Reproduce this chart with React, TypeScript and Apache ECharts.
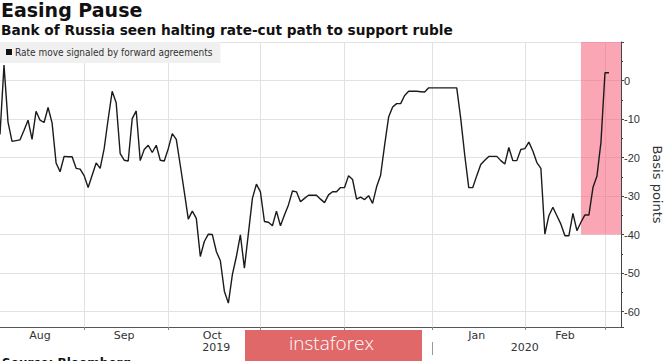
import React, { useEffect, useRef } from 'react';
import * as echarts from 'echarts';

// ---- data ----
const firstDay = '2019-08-02';
const lastDay = '2020-03-06';

// Basis points, one value per business day from 2019-08-02
const rateMove = [
  -14, 4, -10.8, -15.8, -15.6, -15.4, -12.9, -10.3, -15.3, -8,
  -10.3, -10.9, -7, -11, -21.4, -23.7, -19.7, -19.8, -19.8, -22.8,
  -23, -24.7, -27.8, -24.6, -21.4, -22.8, -17.7, -10, -2.8, -5.8,
  -19, -20.7, -20.9, -9.9, -7.9, -20.8, -17.9, -16.8, -18.7, -16.8,
  -20.7, -20.9, -17.7, -13.8, -15.3, -22, -28.9, -36, -33.9, -35.8,
  -45.7, -41.8, -39.9, -40, -44.4, -46.8, -54.7, -57.8, -50.4, -45.7,
  -40.1, -48.7, -39.7, -30.6, -26.9, -28.9, -36.6, -36.8, -37.7, -33.9,
  -37.7, -34.9, -32.3, -28.7, -28.9, -31.5, -30.6, -29.8, -29.8, -29.8,
  -30.8, -31.7, -29.7, -28.9, -28.9, -27.8, -27.8, -24.7, -25.7, -30.8,
  -30.3, -30.9, -29.9, -31.9, -27.6, -24.6, -16.8, -9.5, -6.9, -6,
  -6, -3.9, -2.8, -2.8, -2.8, -2.9, -3, -1.9, -1.9, -1.9,
  -1.9, -1.9, -1.9, -1.9, -1.9, -9.9, -19.4, -27.8, -27.8, -24.7,
  -21.8, -20.7, -19.7, -19.7, -19.7, -20.8, -21.7, -17.4, -20.8, -20.8,
  -17.9, -17.7, -16, -18.3, -21.3, -22.8, -39.9, -35.1, -32.9, -35.1,
  -37.3, -40.3, -40.3, -34.5, -39, -36.8, -34.9, -34.9, -27.8, -24.8,
  -16, 2, 2,
];

const monthStartDates = ['2019-09-02', '2019-10-01', '2019-11-01', '2019-12-02', '2020-01-01', '2020-02-03', '2020-03-02'];
const monthLabels = ['Aug', 'Sep', 'Oct', 'Nov', 'Dec', 'Jan', 'Feb'];
const monthLabelDates = ['2019-08-16', '2019-09-16', '2019-10-16', '2019-11-15', '2019-12-17', '2020-01-16', '2020-02-17'];
const yearLabels = ['2019', '2020'];
const yearLabelDates = ['2019-10-17', '2020-02-03'];
const yearBreakDate = '2020-01-01';

const highlightStart = '2020-02-21';
const highlightFloor = -40;
const highlightTop = 10;

const seriesName = 'Rate move signaled by forward agreements';

function businessDays(start: string, end: string): string[] {
  const out: string[] = [];
  const d = new Date(start + 'T00:00:00Z');
  const e = new Date(end + 'T00:00:00Z');
  while (d <= e) {
    const wd = d.getUTCDay();
    if (wd !== 0 && wd !== 6) out.push(d.toISOString().slice(0, 10));
    d.setUTCDate(d.getUTCDate() + 1);
  }
  return out;
}

const FONT = '"DejaVu Sans", sans-serif';
const FONT_C = '"DejaVu Sans Condensed", "DejaVu Sans", sans-serif';

export default function App() {
  const ref = useRef<HTMLDivElement>(null);
  useEffect(() => {
    document.body.style.margin = '0';
    if (!ref.current) return;
    const chart = echarts.init(ref.current, undefined, { renderer: 'svg' });
    const dates = businessDays(firstDay, lastDay);
    const startIdx = new Set(monthStartDates.map((d) => dates.indexOf(d)));
    const labelMap = new Map<number, string>();
    monthLabelDates.forEach((d, i) => labelMap.set(dates.indexOf(d), monthLabels[i]));
    const yearMap = new Map<number, string>();
    yearLabelDates.forEach((d, i) => yearMap.set(dates.indexOf(d), yearLabels[i]));
    const breakIdx = dates.indexOf(yearBreakDate);

    chart.setOption({
      animation: false,
      backgroundColor: '#ffffff',
      title: [
        {
          text: 'Easing Pause',
          left: 1,
          top: 0,
          padding: 0,
          textStyle: { fontFamily: FONT, fontWeight: 'bold', fontSize: 19, color: '#111' },
        },
        {
          text: 'Bank of Russia seen halting rate-cut path to support ruble',
          left: 1,
          top: 23,
          padding: 0,
          textStyle: { fontFamily: FONT, fontWeight: 'bold', fontSize: 13.7, color: '#111' },
        },
      ],
      legend: {
        data: [seriesName],
        left: 0,
        top: 42,
        padding: [5, 8, 6, 6],
        backgroundColor: '#f0f0f0',
        itemWidth: 6,
        itemHeight: 6,
        icon: 'rect',
        itemStyle: { color: '#111' },
        textStyle: { fontFamily: FONT_C, fontSize: 10, color: '#333', padding: [0, 0, 0, -2] },
      },
      grid: { left: 0, right: 44, top: 42, bottom: 34, containLabel: false, outerBoundsMode: 'none' },
      xAxis: [
        {
          type: 'category',
          data: dates,
          boundaryGap: false,
          axisLine: { onZero: false, lineStyle: { color: '#555', width: 1 } },
          axisTick: { show: true, length: 3, interval: (i: number) => startIdx.has(i), lineStyle: { color: '#888' } },
          splitLine: { show: true, interval: (i: number) => startIdx.has(i), lineStyle: { color: '#e2e2e2', width: 1 } },
          axisLabel: {
            interval: (i: number) => labelMap.has(i),
            formatter: (_v: string, i: number) => labelMap.get(i) || '',
            fontFamily: FONT,
            fontSize: 11,
            color: '#333',
            margin: 3,
          },
        },
        {
          type: 'category',
          data: dates,
          boundaryGap: false,
          position: 'bottom',
          offset: 15,
          axisLine: { show: false, onZero: false },
          axisTick: { show: true, length: 13, interval: (i: number) => i === breakIdx, lineStyle: { color: '#999' } },
          splitLine: { show: false },
          axisLabel: {
            interval: (i: number) => yearMap.has(i),
            formatter: (_v: string, i: number) => yearMap.get(i) || '',
            fontFamily: FONT,
            fontSize: 11,
            color: '#333',
            margin: 0,
          },
        },
      ],
      yAxis: {
        type: 'value',
        position: 'right',
        min: -64,
        max: 10,
        splitNumber: 7,
        name: 'Basis points',
        nameLocation: 'middle',
        nameRotate: -90,
        nameGap: 27,
        nameTextStyle: { fontFamily: FONT, fontSize: 13, color: '#333' },
        axisLine: { show: true, lineStyle: { color: '#444', width: 1 } },
        axisTick: { show: true, length: 3, lineStyle: { color: '#444' } },
        minorTick: { show: true, splitNumber: 2, length: 2, lineStyle: { color: '#444' } },
        splitLine: { show: true, lineStyle: { color: '#e2e2e2', width: 1 } },
        axisLabel: {
          formatter: (v: number) => (v % 10 === 0 && v <= 0 ? (v < 0 ? '-' + String(-v) : '0') : ''),
          fontFamily: '"Liberation Sans", sans-serif',
          fontSize: 11,
          color: '#333',
          margin: 3,
        },
      },
      series: [
        {
          name: seriesName,
          type: 'line',
          data: rateMove,
          symbol: 'none',
          lineStyle: { color: '#1b1b1b', width: 1.4 },
          itemStyle: { color: '#111' },
          z: 2,
        },
        {
          name: 'highlight',
          type: 'line',
          data: [],
          symbol: 'none',
          z: 3,
          markArea: {
            silent: true,
            itemStyle: { color: 'rgba(246, 92, 118, 0.55)' },
            data: [[{ xAxis: highlightStart, yAxis: highlightTop }, { xAxis: lastDay, yAxis: highlightFloor }]],
          },
        },
      ],
      graphic: [
        {
          type: 'rect',
          left: 245,
          top: 330,
          shape: { width: 177, height: 40 },
          style: { fill: '#e06868' },
          z: 100,
        },
        {
          type: 'text',
          left: 289,
          top: 333,
          style: { text: 'instaforex', fill: '#ffffff', font: '300 19px "Open Sans", sans-serif' },
          z: 101,
        },
        {
          type: 'text',
          left: 2,
          top: 357,
          style: { text: 'Source: Bloomberg', fill: '#111', font: 'bold 12px "DejaVu Sans", sans-serif' },
          z: 100,
        },
      ],
    });
    return () => chart.dispose();
  }, []);
  return <div ref={ref} style={{ width: 665, height: 361 }} />;
}
